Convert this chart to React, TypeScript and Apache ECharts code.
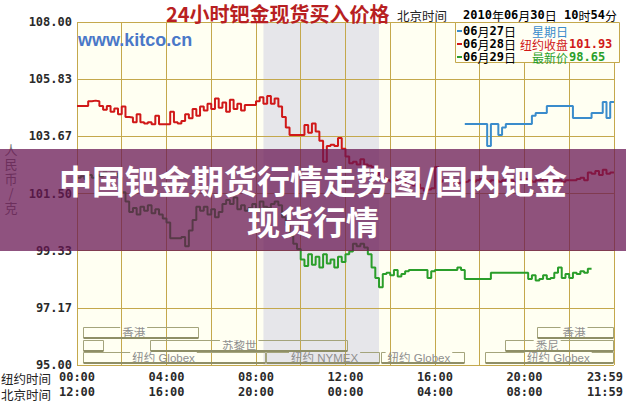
import React, { useEffect, useRef } from 'react';
import * as echarts from 'echarts';

// ---------- data ----------
const Y_MIN = 95;
const Y_MAX = 108;
const X_MAX = 1440; // minutes, New York time
const STEP_MIN = 10;

// 06月28日 (red) from 00:00 NY
const redStart = 0;
const redValues = [
  104.82, 104.82, 104.82, 105.0, 105.02, 105.0, 104.82, 104.67, 104.82, 104.6,
  104.72, 104.5, 104.8, 104.4, 104.38, 104.2, 104.5, 104.2, 104.15, 104.2,
  104.12, 104.45, 104.12, 104.12, 104.12, 104.6, 104.2, 104.15, 104.25, 104.5,
  104.35, 104.7, 104.45, 104.8, 104.65, 104.9, 104.7, 105.1, 104.75, 104.95,
  104.6, 105.05, 104.7, 104.9, 104.65, 104.85, 104.85, 104.85, 105.0, 105.15,
  104.9, 105.2, 104.9, 105.1, 104.8, 104.4, 104.0, 103.72, 103.72, 103.72,
  103.72, 104.1, 103.8, 104.15, 103.85, 103.5, 102.7, 103.3, 103.35, 103.3,
  103.6, 103.2, 102.9, 102.65, 102.7, 102.6, 102.8, 102.6, 102.55, 102.5,
  102.3, 102.2, 102.1, 102.0, 101.95, 102.0, 101.9, 101.85, 101.95, 101.9,
  101.8, 101.85, 101.7, 101.6, 101.65, 101.7, 102.5, 101.95, 102.0, 101.95,
  101.9, 101.95, 101.9, 101.93, 101.95, 102.0, 101.95, 102.0, 102.05, 102.0,
  101.95, 102.0, 102.0, 101.95, 102.0, 102.05, 102.0, 101.95, 102.0, 102.0,
  102.05, 102.0, 101.95, 102.0, 102.0, 102.05, 102.0, 101.95, 102.0, 102.0,
  101.95, 102.0, 102.0, 102.0, 102.05, 102.1, 102.0, 102.3, 102.25, 102.35,
  102.2, 102.4, 102.25, 102.3, 102.3,
];

// 06月29日 (green) from 00:00 NY
const greenStart = 0;
const greenValues = [
  102.1, 102.15, 102.05, 102.2, 102.1, 102.2, 102.15, 102.3, 102.2, 102.3,
  102.25, 102.1, 101.55, 101.2, 100.8, 100.95, 100.7, 101.0, 100.85, 101.05,
  100.75, 100.9, 100.7, 100.55, 100.4, 99.8, 99.8, 99.8, 99.85, 99.5,
  100.1, 100.5, 101.0, 100.85, 101.0, 100.7, 100.9, 100.6, 100.8, 101.1,
  101.25, 101.1, 101.35, 100.9, 101.05, 100.85, 100.95, 101.1, 100.9, 101.2,
  101.0, 100.95, 101.1, 101.2, 101.05, 100.6, 100.3, 99.9, 99.6, 99.4,
  99.0, 98.75, 99.2, 98.8, 99.1, 98.7, 99.2, 98.85, 99.0, 98.7,
  99.1, 98.9, 99.2, 99.3, 99.6, 99.5, 99.6, 99.45, 99.2, 98.7,
  98.3, 97.95, 98.45, 98.5, 98.4, 98.6, 98.35, 98.45, 98.55, 98.6,
  98.6, 98.6, 98.6, 98.6, 98.3, 98.55, 98.6, 98.6, 98.6, 98.6,
  98.6, 98.6, 98.7, 98.6, 98.26, 98.26, 98.26, 98.26, 98.26, 98.26,
  98.26, 98.5, 98.5, 98.5, 98.5, 98.5, 98.5, 98.5, 98.5, 98.5,
  98.5, 98.26, 98.4, 98.2, 98.26, 98.4, 98.26, 98.3, 98.5, 98.7,
  98.3, 98.45, 98.3, 98.5, 98.45, 98.55, 98.5, 98.65, 98.65,
];

// 06月27日 (blue) from 17:20 NY
const blueStart = 1040;
const blueValues = [
  104.13, 104.13, 104.13, 104.13, 104.13, 104.13, 103.3, 104.13, 104.13, 103.72,
  104.0, 104.13, 104.13, 104.13, 104.13, 104.13, 104.13, 104.13, 104.45, 104.55,
  104.55, 104.55, 104.82, 104.82, 104.82, 104.82, 104.82, 104.82, 104.82, 104.36,
  104.36, 104.36, 104.36, 104.36, 104.55, 104.55, 104.55, 104.97, 104.36, 104.97,
  104.97,
];

const seriesNames = ['06月27日', '06月28日', '06月29日'];
const legendNotes = ['星期日', '纽约收盘', '最新价'];
const legendValues = ['', '101.93', '98.65'];

// NYMEX floor session (shaded), minutes NY time
const nymexRange = [500, 810];

// market session brackets at the bottom of the plot
const sessionLabels = ['香港', '香港', '', '苏黎世', '悉尼', '纽约 Globex', '纽约 NYMEX', '纽约 Globex', '纽约 Globex'];
const sessionRows = [0, 0, 1, 1, 1, 2, 2, 2, 2];
const sessionStarts = [16, 1235, 16, 195, 1147, 16, 507, 816, 1093];
const sessionEnds = [328, 1440, 72, 728, 1440, 507, 813, 1040, 1440];
const sessionLabelAt = [152, 1333, 0, 435, 1261, 232, 664, 917, 1291];

const titleText = '24小时钯金现货买入价格';
const timeZoneText = '北京时间';
const dateText = '2010年06月30日 10时54分';
const siteText = 'www.kitco.cn';
const unitText = '人民币/克';
const nyLabel = '纽约时间';
const bjLabel = '北京时间';
const bannerLines = ['中国钯金期货行情走势图/国内钯金', '现货行情'];

// ---------- styles ----------
const MONO = '"DejaVu Sans Mono", monospace';
const CJK = '"Noto Sans CJK SC", sans-serif';
const LATIN_CJK = '"Liberation Sans", "Noto Sans CJK SC", sans-serif';
const GRID = '#c4a84c';
const COLORS = ['#3a8ccc', '#d01818', '#2a9e2a'];

function toSeries(start: number, values: number[]) {
  return values.map((v, i) => [start + i * STEP_MIN, v]);
}

function hhmm(m: number) {
  const h = Math.floor(m / 60) % 24;
  const mm = m % 60;
  return String(h).padStart(2, '0') + ':' + String(mm).padStart(2, '0');
}

function mixed(s: string, a: string, c: string) {
  return s
    .split(/([\x00-\x7F]+)/)
    .filter((p) => p.length > 0)
    .map((p) => (/^[\x00-\x7F]+$/.test(p) ? `{${a}|${p}}` : `{${c}|${p}}`))
    .join('');
}

let measureCtx: CanvasRenderingContext2D | null = null;
function measure(text: string, font: string) {
  if (!measureCtx) measureCtx = document.createElement('canvas').getContext('2d');
  if (!measureCtx) return text.length * 8;
  measureCtx.font = font;
  return measureCtx.measureText(text).width;
}

export default function App() {
  const ref = useRef<HTMLDivElement>(null);

  useEffect(() => {
    if (!ref.current) return;
    const chart = echarts.init(ref.current, null, { renderer: 'svg' });

    const sessionFont = `11.5px ${LATIN_CJK}`;
    const sessionData = sessionStarts.map((s, i) => [s, sessionEnds[i], sessionRows[i], sessionLabelAt[i]]);

    const legendRich = (color: string) => ({
      a: { fontFamily: MONO, fontWeight: 'bold', fontSize: 12, lineHeight: 12, color },
      c: { fontFamily: CJK, fontSize: 12, lineHeight: 12, color },
    });

    const legendGraphics: any[] = [
      {
        type: 'rect',
        z: 50,
        shape: { x: 455.5, y: 22.5, width: 164, height: 40 },
        style: { fill: '#fffff4', stroke: GRID, lineWidth: 1 },
      },
    ];
    seriesNames.forEach((name, i) => {
      const cy = 31 + i * 13;
      legendGraphics.push({
        type: 'rect',
        z: 51,
        shape: { x: 457, y: cy - 1, width: 5, height: 2 },
        style: { fill: COLORS[i] },
      });
      legendGraphics.push({
        type: 'text',
        z: 51,
        x: 463,
        y: cy,
        style: { text: mixed(name, 'a', 'c'), rich: legendRich(COLORS[i]), verticalAlign: 'middle', align: 'left' },
      });
      legendGraphics.push({
        type: 'text',
        z: 51,
        x: 532 - (legendNotes[i].length - 3) * 12,
        y: cy,
        style: { text: legendNotes[i], fill: COLORS[i], font: `12px ${CJK}`, lineHeight: 12, verticalAlign: 'middle' },
      });
      if (legendValues[i]) {
        legendGraphics.push({
          type: 'text',
          z: 51,
          x: 569,
          y: cy,
          style: { text: legendValues[i], fill: COLORS[i], font: `bold 12px ${MONO}`, lineHeight: 12, verticalAlign: 'middle' },
        });
      }
    });

    // vertical unit label: one text per character
    const unitGraphics = unitText.split('').map((ch, i) => ({
      type: 'text',
      z: 50,
      x: 11,
      y: 149 + i * 14.6,
      style: { text: ch, fill: '#7a7a7a', font: `13px ${CJK}`, lineHeight: 13, align: 'center', verticalAlign: 'middle' },
    }));

    const option: any = {
      animation: false,
      backgroundColor: '#ffffff',
      grid: { left: 77, top: 22, width: 540, height: 343, show: false },
      xAxis: [
        {
          type: 'value',
          min: 0,
          max: X_MAX,
          interval: 120,
          axisLine: { show: false },
          axisTick: { show: false },
          splitLine: { show: true, lineStyle: { color: GRID, width: 1 } },
          axisLabel: {
            margin: 6,
            color: '#2a2a2a',
            fontFamily: MONO,
            fontWeight: 'bold',
            fontSize: 12,
            hideOverlap: false,
            showMaxLabel: true,
            showMinLabel: true,
            formatter: (v: number) => {
              if (v % 240 !== 0) return '';
              if (v >= X_MAX) return '{l|23:59}';
              return hhmm(v);
            },
            rich: {
              l: { fontFamily: MONO, fontWeight: 'bold', fontSize: 12, color: '#2a2a2a', padding: [0, 18, 0, 0] },
            },
          },
        },
        {
          type: 'value',
          min: 0,
          max: X_MAX,
          interval: 120,
          position: 'bottom',
          offset: 15,
          axisLine: { show: false },
          axisTick: { show: false },
          splitLine: { show: false },
          axisLabel: {
            margin: 6,
            color: '#2a2a2a',
            fontFamily: MONO,
            fontWeight: 'bold',
            fontSize: 12,
            hideOverlap: false,
            showMaxLabel: true,
            showMinLabel: true,
            formatter: (v: number) => {
              if (v % 240 !== 0) return '';
              if (v >= X_MAX) return '{l|11:59}';
              return hhmm(v + 720);
            },
            rich: {
              l: { fontFamily: MONO, fontWeight: 'bold', fontSize: 12, color: '#2a2a2a', padding: [0, 18, 0, 0] },
            },
          },
        },
      ],
      yAxis: {
        type: 'value',
        min: Y_MIN,
        max: Y_MAX,
        interval: (Y_MAX - Y_MIN) / 6,
        axisLine: { show: false },
        axisTick: { show: false },
        splitLine: { show: true, lineStyle: { color: GRID, width: 1 } },
        axisLabel: {
          margin: 5,
          color: '#2a2a2a',
          fontFamily: MONO,
          fontWeight: 'bold',
          fontSize: 12,
          formatter: (v: number) => v.toFixed(2),
        },
      },
      series: [
        {
          name: 'bg',
          type: 'line',
          data: [],
          silent: true,
          markArea: {
            silent: true,
            z: -1,
            label: { show: false },
            data: [
              [{ xAxis: 0, itemStyle: { color: '#fffff2' } }, { xAxis: X_MAX }],
              [{ xAxis: nymexRange[0], itemStyle: { color: '#e6e6ea' } }, { xAxis: nymexRange[1] }],
            ],
          },
        },
        {
          name: 'sessions',
          type: 'custom',
          silent: true,
          clip: false,
          z: 3,
          data: sessionData,
          renderItem: (params: any, api: any) => {
            const i = params.dataIndex;
            const s = api.coord([api.value(0), Y_MIN]);
            const e = api.coord([api.value(1), Y_MIN]);
            const row = api.value(2);
            const x0 = Math.round(s[0]) + 0.5;
            const x1 = Math.round(e[0]) - 0.5;
            const top = Math.round(s[1] - 38 + row * 12.5) + 0.5;
            const bot = top - 0.5 + 11;
            const topStyle = { stroke: '#a4a47c', lineWidth: 1 };
            const children: any[] = [];
            const label = sessionLabels[i];
            if (label) {
              const lx = api.coord([api.value(3), Y_MIN])[0];
              const w = measure(label, sessionFont);
              children.push({ type: 'line', shape: { x1: x0, y1: top, x2: lx - w / 2 - 2, y2: top }, style: topStyle });
              children.push({ type: 'line', shape: { x1: lx + w / 2 + 2, y1: top, x2: x1, y2: top }, style: topStyle });
              children.push({
                type: 'text',
                x: lx,
                y: top + 5.5,
                style: { text: label, fill: '#8e8e8e', font: sessionFont, align: 'center', verticalAlign: 'middle' },
              });
            } else {
              children.push({ type: 'line', shape: { x1: x0, y1: top, x2: x1, y2: top }, style: topStyle });
            }
            children.push({ type: 'line', shape: { x1: x0, y1: top, x2: x0, y2: bot }, style: topStyle });
            children.push({ type: 'line', shape: { x1: x1, y1: top, x2: x1, y2: bot }, style: topStyle });
            children.push({ type: 'line', shape: { x1: x0, y1: bot, x2: x1, y2: bot }, style: { stroke: '#8e8e66', lineWidth: 2 } });
            return { type: 'group', children };
          },
        },
        {
          name: seriesNames[0],
          type: 'line',
          step: 'end',
          showSymbol: false,
          z: 4,
          data: toSeries(blueStart, blueValues),
          lineStyle: { color: COLORS[0], width: 2 },
        },
        {
          name: seriesNames[1],
          type: 'line',
          step: 'end',
          showSymbol: false,
          z: 4,
          data: toSeries(redStart, redValues),
          lineStyle: { color: COLORS[1], width: 2 },
        },
        {
          name: seriesNames[2],
          type: 'line',
          step: 'end',
          showSymbol: false,
          z: 4,
          data: toSeries(greenStart, greenValues),
          lineStyle: { color: COLORS[2], width: 2 },
        },
      ],
      graphic: [
        {
          type: 'text',
          z: 50,
          x: 166,
          y: 13,
          style: { text: titleText, fill: '#b81f22', font: `bold 20px ${CJK}`, verticalAlign: 'middle' },
        },
        {
          type: 'text',
          z: 50,
          x: 397,
          y: 15,
          style: { text: timeZoneText, fill: '#222', font: `12.5px ${CJK}`, verticalAlign: 'middle' },
        },
        {
          type: 'text',
          z: 50,
          x: 463,
          y: 15,
          style: {
            text: mixed(dateText, 'a', 'c'),
            verticalAlign: 'middle',
            rich: {
              a: { fontFamily: MONO, fontWeight: 'bold', fontSize: 12, lineHeight: 12, color: '#333' },
              c: { fontFamily: CJK, fontSize: 12, lineHeight: 12, color: '#333' },
            },
          },
        },
        {
          type: 'text',
          z: 50,
          x: 78,
          y: 40,
          style: { text: siteText, fill: '#4a78c8', font: `bold 18px "Liberation Sans", Arial, sans-serif`, verticalAlign: 'middle' },
        },
        ...unitGraphics,
        {
          type: 'text',
          z: 50,
          x: 1,
          y: 378,
          style: { text: nyLabel, fill: '#222', font: `12.5px ${CJK}`, lineHeight: 13, verticalAlign: 'middle' },
        },
        {
          type: 'text',
          z: 50,
          x: 1,
          y: 394,
          style: { text: bjLabel, fill: '#222', font: `12.5px ${CJK}`, lineHeight: 13, verticalAlign: 'middle' },
        },
        ...legendGraphics,
        {
          type: 'rect',
          z: 100,
          silent: true,
          shape: { x: 0, y: 149, width: 626, height: 102 },
          style: { fill: 'rgba(104,22,82,0.74)' },
        },
        {
          type: 'text',
          z: 101,
          x: 313,
          y: 180,
          style: { text: bannerLines[0], fill: '#ffffff', font: `bold 33px ${CJK}`, align: 'center', verticalAlign: 'middle' },
        },
        {
          type: 'text',
          z: 101,
          x: 313,
          y: 221,
          style: { text: bannerLines[1], fill: '#ffffff', font: `bold 33px ${CJK}`, align: 'center', verticalAlign: 'middle' },
        },
      ],
    };

    chart.setOption(option);
    return () => chart.dispose();
  }, []);

  return (
    <div
      ref={ref}
      style={{ position: 'fixed', left: 0, top: 0, width: 626, height: 403, background: '#ffffff' }}
    />
  );
}
